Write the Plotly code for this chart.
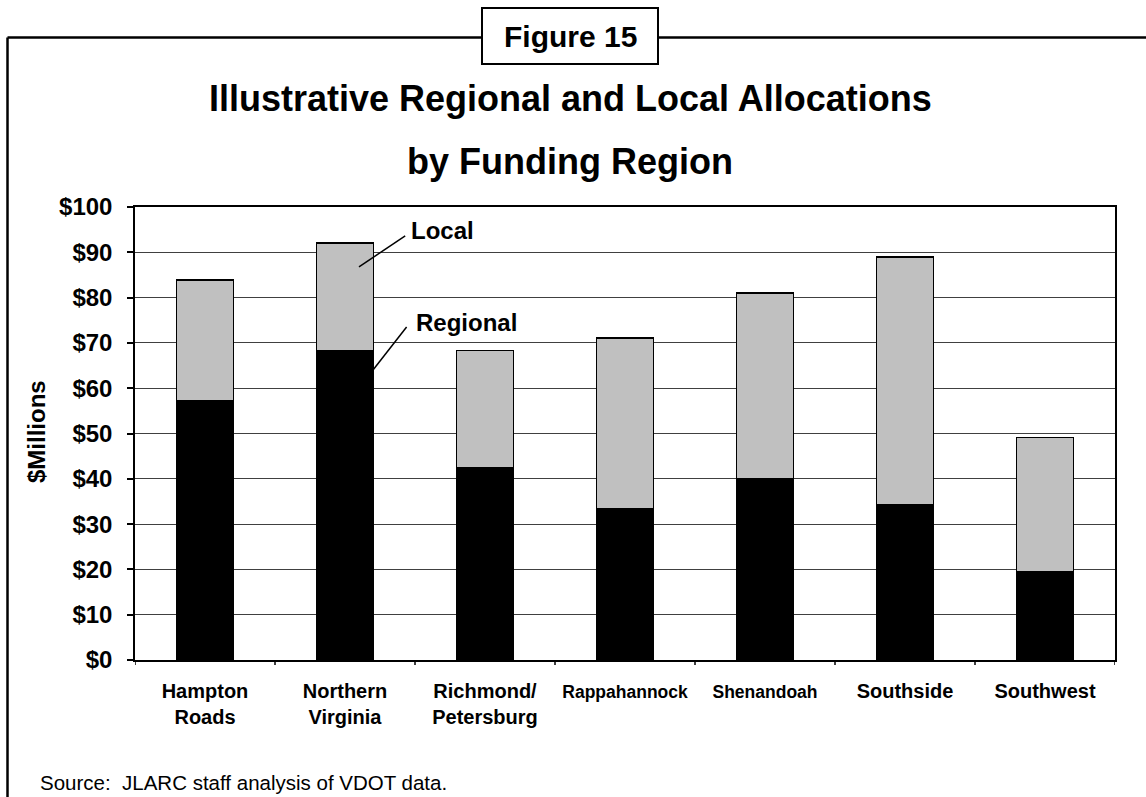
import plotly.graph_objects as go

W, H = 1146, 797
ML, MR, MT, MB = 135, 31, 207, 137

categories = ["Hampton Roads", "Northern Virginia", "Richmond/ Petersburg", "Rappahannock",
              "Shenandoah", "Southside", "Southwest"]
tick_labels = ["Hampton<br>Roads", "Northern<br>Virginia", "Richmond/<br>Petersburg",
               "<span style='font-size:17.5px'>Rappahannock</span>",
               "<span style='font-size:17.5px'>Shenandoah</span>", "Southside", "Southwest"]
regional = [57.2, 68.2, 42.5, 33.5, 40.1, 34.3, 19.4]
local = [26.7, 23.8, 25.8, 37.6, 40.9, 54.7, 29.7]
y_ticks = [0, 10, 20, 30, 40, 50, 60, 70, 80, 90, 100]
y_tick_labels = ["$" + str(v) for v in y_ticks]

PW, PH = W - ML - MR, H - MT - MB


def px(x):
    return (x - ML) / PW


def py(y):
    return (H - MB - y) / PH


FONT = "Liberation Sans, Arial, sans-serif"
idx = list(range(len(categories)))

fig = go.Figure()
fig.add_trace(go.Bar(x=idx, y=regional, name="Regional",
                     marker=dict(color="black", line=dict(color="black", width=1.5)), width=0.41))
fig.add_trace(go.Bar(x=idx, y=local, name="Local",
                     marker=dict(color="#c0c0c0", line=dict(color="black", width=1.5)), width=0.41))

fig.update_layout(
    barmode="stack",
    width=W, height=H,
    margin=dict(l=ML, r=MR, t=MT, b=MB),
    paper_bgcolor="white", plot_bgcolor="white",
    showlegend=False,
    font=dict(family=FONT, color="black"),
    xaxis=dict(
        tickmode="array", tickvals=idx, ticktext=["<b>" + t + "</b>" for t in tick_labels],
        range=[-0.5, 6.5], showgrid=False,
        showline=True, linecolor="black", linewidth=1.5, mirror=True,
        ticks="", tickfont=dict(size=20, family=FONT, color="black"),
        ticklabelstandoff=12,
    ),
    yaxis=dict(
        range=[0, 100], tickmode="array", tickvals=y_ticks,
        ticktext=["<b>" + t + "</b>" for t in y_tick_labels],
        showgrid=True, gridcolor="#404040", gridwidth=1,
        showline=True, linecolor="black", linewidth=1.5, mirror=True,
        ticks="outside", ticklen=6, tickcolor="black", tickwidth=1.5,
        tickfont=dict(size=24, family=FONT, color="black"),
        ticklabelstandoff=10,
        zeroline=False,
    ),
)

# category boundary tick marks on x-axis
shapes = []
for b in [i - 0.5 for i in range(len(categories) + 1)]:
    shapes.append(dict(type="line", xref="x", yref="paper", x0=b, x1=b, y0=0, y1=py(665),
                       line=dict(color="black", width=1.5)))

# outer frame
shapes.append(dict(type="line", xref="paper", yref="paper", x0=px(7.5), x1=px(1150), y0=py(37.5), y1=py(37.5),
                   line=dict(color="black", width=2.5)))
shapes.append(dict(type="line", xref="paper", yref="paper", x0=px(7.5), x1=px(7.5), y0=py(37.5), y1=py(800),
                   line=dict(color="black", width=2.5)))
# Figure 15 box
shapes.append(dict(type="rect", xref="paper", yref="paper", x0=px(482), x1=px(658), y0=py(8), y1=py(64),
                   fillcolor="white", line=dict(color="black", width=2)))

# callout lines
shapes.append(dict(type="line", xref="x", yref="y", x0=1.10, y0=86.8, x1=1.43, y1=93.6,
                   line=dict(color="black", width=1.5)))
shapes.append(dict(type="line", xref="x", yref="y", x0=1.20, y0=64.0, x1=1.44, y1=73.5,
                   line=dict(color="black", width=1.5)))
fig.update_layout(shapes=shapes)

ann = [
    dict(text="<b>Figure 15</b>", x=px(570), y=py(36), xref="paper", yref="paper", showarrow=False,
         font=dict(size=30, family=FONT), xanchor="center", yanchor="middle"),
    dict(text="<b>Illustrative Regional and Local Allocations</b>", x=px(570), y=py(98), xref="paper",
         yref="paper", showarrow=False, font=dict(size=36, family=FONT), xanchor="center", yanchor="middle"),
    dict(text="<b>by Funding Region</b>", x=px(570), y=py(162), xref="paper", yref="paper",
         showarrow=False, font=dict(size=36, family=FONT), xanchor="center", yanchor="middle"),
    dict(text="<b>$Millions</b>", x=px(36), y=py(432), xref="paper", yref="paper", showarrow=False,
         textangle=-90, font=dict(size=24, family=FONT), xanchor="center", yanchor="middle"),
    dict(text="<b>Local</b>", x=1.46, y=94.8, xref="x", yref="y", showarrow=False,
         font=dict(size=24, family=FONT), xanchor="left", yanchor="middle"),
    dict(text="<b>Regional</b>", x=1.49, y=74.6, xref="x", yref="y", showarrow=False,
         font=dict(size=24, family=FONT), xanchor="left", yanchor="middle"),
    dict(text="Source:  JLARC staff analysis of VDOT data.", x=px(38), y=py(782), xref="paper", yref="paper",
         showarrow=False, font=dict(size=20.5, family=FONT), xanchor="left", yanchor="middle"),
]
fig.update_layout(annotations=ann)

fig.write_html("out.html", config={"displayModeBar": False},
               post_script="document.body.style.margin='0';document.body.style.overflow='hidden';")
